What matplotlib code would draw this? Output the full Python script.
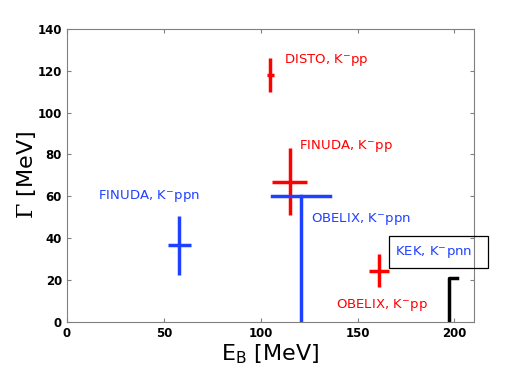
import numpy as np
import matplotlib
matplotlib.use('Agg')
import matplotlib.pyplot as plt
from matplotlib.patches import Rectangle

# crosses: E_B, dE_B, Gamma, dGamma, colour
eb = [105, 115, 58, 161]
eb_err = [2, 9, 6, 5]
gamma = [118, 67, 36.5, 24.5]
gamma_err = [8, 16, 14, 8]
colors = ['red', 'red', '#2040ff', 'red']

# upper limits (Gamma < value)
obelix_ppn_eb = 121
obelix_ppn_eb_range = [106, 136]
obelix_ppn_gamma = 60
kek_eb = 197
kek_eb_stub = 201.5
kek_gamma = 21

# label positions
label_text = ['DISTO, K$^{-}$pp', 'FINUDA, K$^{-}$pp', 'FINUDA, K$^{-}$ppn',
              'OBELIX, K$^{-}$ppn', 'OBELIX, K$^{-}$pp']
label_x = [112, 120, 16, 126, 139]
label_y = [125, 84, 60, 49, 8]
label_col = ['red', 'red', '#2040ff', '#2040ff', 'red']

plt.rcParams.update({
    'font.family': 'DejaVu Sans',
    'mathtext.default': 'regular',
    'mathtext.fontset': 'custom',
    'mathtext.rm': 'DejaVu Serif',
    'axes.edgecolor': '#808080',
    'xtick.direction': 'in',
    'ytick.direction': 'in',
    'xtick.top': True,
    'ytick.right': True,
})

fig = plt.figure(figsize=(5.23, 3.85), dpi=100)
ax = fig.add_axes([0.128, 0.164, 0.778, 0.761])

for x, dx, y, dy, c in zip(eb, eb_err, gamma, gamma_err, colors):
    ax.errorbar(x, y, xerr=dx, yerr=dy, color=c, lw=2.5, capsize=0, fmt='none')

ax.plot(obelix_ppn_eb_range, [obelix_ppn_gamma] * 2, color='#2040ff', lw=2.5)
ax.plot([obelix_ppn_eb] * 2, [0, obelix_ppn_gamma], color='#2040ff', lw=2.5)
ax.plot([kek_eb, kek_eb, kek_eb_stub], [0, kek_gamma, kek_gamma], color='black', lw=2.5)

for t, x, y, c in zip(label_text, label_x, label_y, label_col):
    ax.text(x, y, t, color=c, fontsize=9.5, va='center', ha='left')

ax.add_patch(Rectangle((166, 25.8), 51.5, 15.3, fc='none', ec='black', lw=0.9,
                       clip_on=False, zorder=3))
ax.text(169.5, 33.5, 'KEK, K$^{-}$pnn', color='#2040ff', fontsize=9.5, va='center',
        ha='left', zorder=4, clip_on=False)

ax.set_xlim(0, 210)
ax.set_ylim(0, 140)
ax.set_xticks([0, 50, 100, 150, 200])
ax.set_yticks(np.arange(0, 141, 20))
ax.tick_params(labelsize=8.5, length=3, color='#808080')
for lab in ax.get_xticklabels() + ax.get_yticklabels():
    lab.set_fontweight('bold')

ax.set_xlabel('E$_B$ [MeV]', fontsize=16, labelpad=2)
ax.set_ylabel(r'$\mathrm{\Gamma}$ [MeV]', fontsize=16, labelpad=0)

fig.savefig('out.png', dpi=100)
